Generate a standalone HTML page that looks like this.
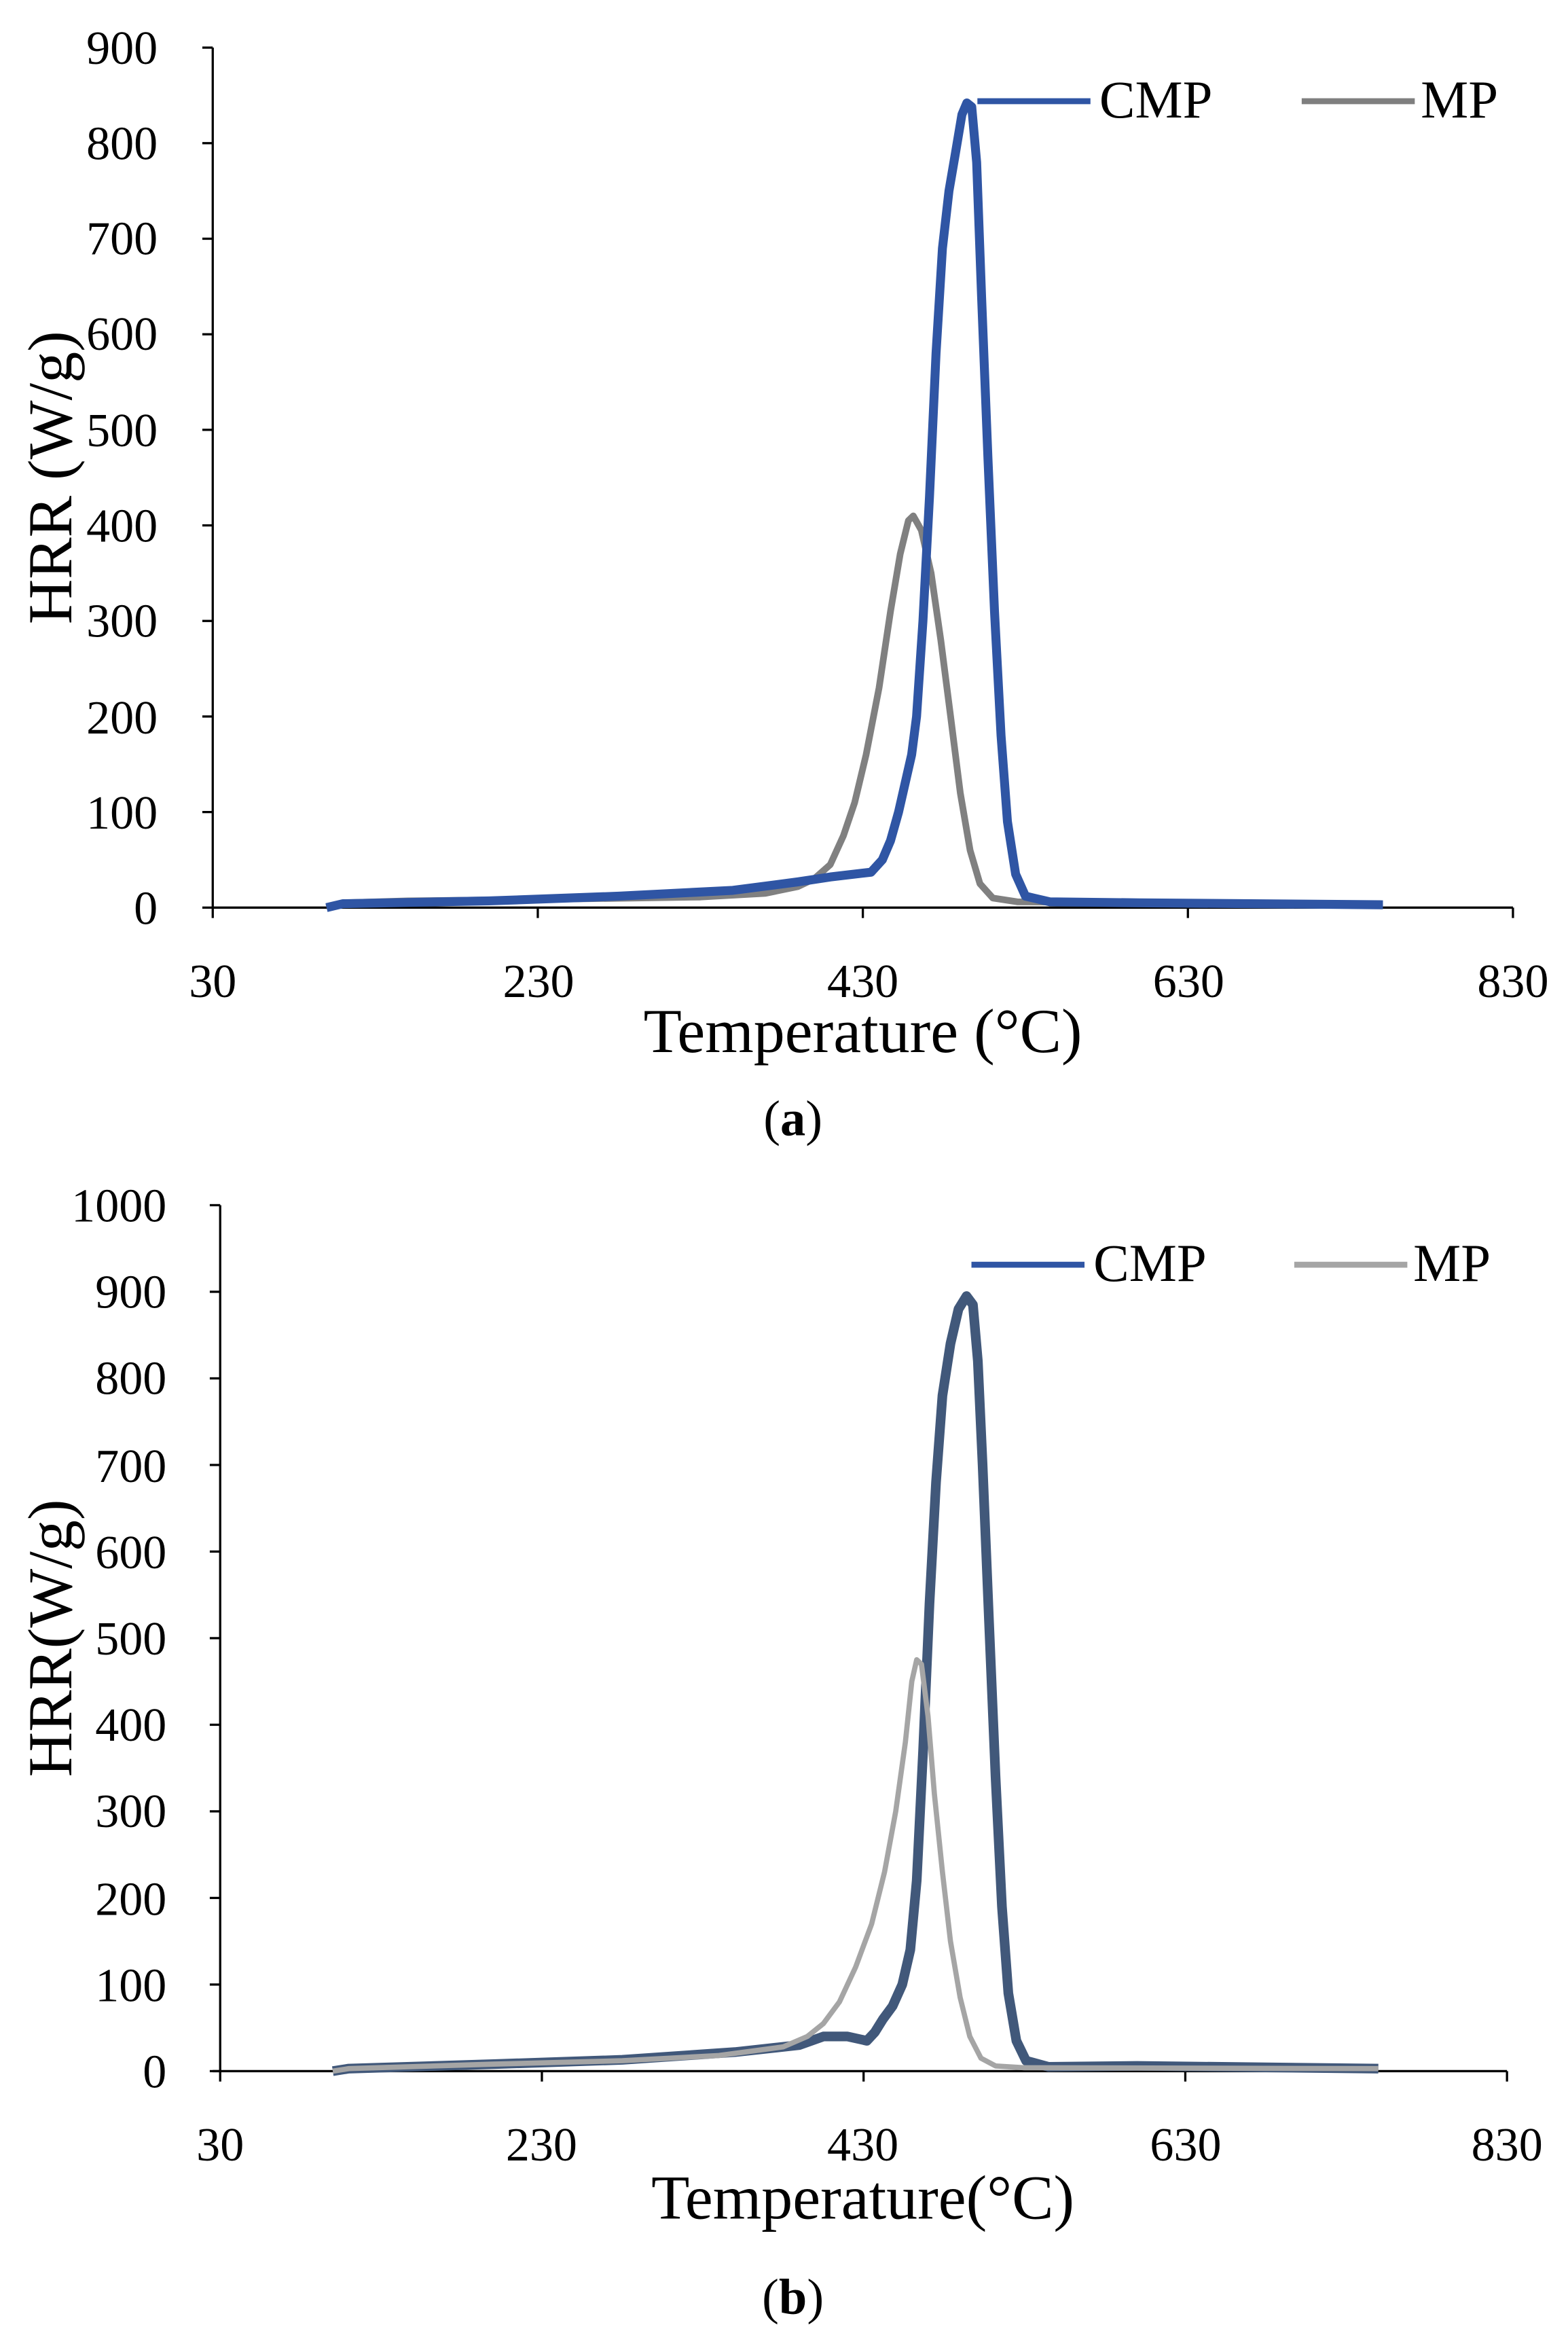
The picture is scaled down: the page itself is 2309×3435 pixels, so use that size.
<!DOCTYPE html>
<html><head><meta charset="utf-8"><style>
html,body{margin:0;padding:0;background:#fff;}
svg{display:block;}
text{font-family:"Liberation Serif",serif;fill:#000;}
</style></head><body>
<svg id="s" width="2309" height="3435" viewBox="0 0 1054 1568" xmlns="http://www.w3.org/2000/svg">
<rect width="1054" height="1568" fill="#fff"/>
<g stroke="#000" stroke-width="1.5" fill="none">
<line x1="143" y1="32" x2="143" y2="610"/>
<line x1="143" y1="610" x2="1017" y2="610"/>
<line x1="143" y1="1392" x2="1013" y2="1392"/>
<line x1="148" y1="810" x2="148" y2="1392"/>
</g>
<g id="ticks" stroke="#000" stroke-width="1.5"></g>
<g font-size="32" text-anchor="end">
<text x="106" y="43">900</text><text x="106" y="107">800</text><text x="106" y="171">700</text><text x="106" y="235">600</text><text x="106" y="300">500</text><text x="106" y="364">400</text><text x="106" y="428">300</text><text x="106" y="493">200</text><text x="106" y="557">100</text><text x="106" y="621">0</text>
</g>
<g font-size="32" text-anchor="middle">
<text x="143" y="670">30</text><text x="362" y="670">230</text><text x="580" y="670">430</text><text x="799" y="670">630</text><text x="1017" y="670">830</text>
</g>
<text x="580" y="707" font-size="42" text-anchor="middle">Temperature (°C)</text>
<text x="48" y="321" font-size="42" text-anchor="middle" transform="rotate(-90 48 321)">HRR (W/g)</text>
<text x="533" y="763" font-size="34" text-anchor="middle">(<tspan font-weight="bold">a</tspan>)</text>
<g font-size="32" text-anchor="end">
<text x="112" y="821">1000</text><text x="112" y="879">900</text><text x="112" y="937">800</text><text x="112" y="996">700</text><text x="112" y="1054">600</text><text x="112" y="1112">500</text><text x="112" y="1170">400</text><text x="112" y="1228">300</text><text x="112" y="1287">200</text><text x="112" y="1345">100</text><text x="112" y="1403">0</text>
</g>
<g font-size="32" text-anchor="middle">
<text x="148" y="1452">30</text><text x="364" y="1452">230</text><text x="580" y="1452">430</text><text x="797" y="1452">630</text><text x="1013" y="1452">830</text>
</g>
<text x="580" y="1491" font-size="42" text-anchor="middle">Temperature(°C)</text>
<text x="48" y="1101" font-size="42" text-anchor="middle" transform="rotate(-90 48 1101)">HRR(W/g)</text>
<text x="533" y="1555" font-size="34" text-anchor="middle">(<tspan font-weight="bold">b</tspan>)</text>
<g id="curves"></g>
<line x1="657" y1="68" x2="733" y2="68" stroke="#2f55a4" stroke-width="4"/>
<text x="739" y="79" font-size="36">CMP</text>
<line x1="875" y1="68" x2="951" y2="68" stroke="#7f7f7f" stroke-width="4"/>
<text x="955" y="79" font-size="36">MP</text>
<line x1="653" y1="850" x2="729" y2="850" stroke="#2f55a4" stroke-width="4"/>
<text x="735" y="861" font-size="36">CMP</text>
<line x1="870" y1="850" x2="946" y2="850" stroke="#a5a5a5" stroke-width="4"/>
<text x="950" y="861" font-size="36">MP</text>
</svg>
<script>
var NS="http://www.w3.org/2000/svg";
var tk=document.getElementById('ticks'),cv=document.getElementById('curves');
function L(p,x1,y1,x2,y2){var l=document.createElementNS(NS,'line');l.setAttribute('x1',x1);l.setAttribute('y1',y1);l.setAttribute('x2',x2);l.setAttribute('y2',y2);p.appendChild(l);}
for(var i=0;i<=9;i++){var y=610-i*578/9;L(tk,136,y,143,y);}
for(var i=0;i<=4;i++){var x=143+i*874/4;L(tk,x,610,x,617);}
for(var i=0;i<=10;i++){var y=1392-i*58.2;L(tk,141,y,148,y);}
for(var i=0;i<=4;i++){var x=148+i*865/4;L(tk,x,1392,x,1399);}
function path(pts,mx,my,col,w){var d='';pts.forEach(function(p,i){d+=(i?'L':'M')+mx(p[0]).toFixed(1)+' '+my(p[1]).toFixed(1);});
var e=document.createElementNS(NS,'path');e.setAttribute('d',d);e.setAttribute('fill','none');e.setAttribute('stroke',col);e.setAttribute('stroke-width',w);e.setAttribute('stroke-linejoin','round');cv.appendChild(e);}
var ax=function(t){return 143+(t-30)*874/800},ay=function(h){return 610-h*578/900};
var bx=function(t){return 148+(t-30)*865/800},by=function(h){return 1392-h*582/1000};
var mpA=[[100,0],[110,5],[150,7],[250,9],[330,11],[370,15],[390,22],[400,30],[410,45],[418,75],[425,110],[432,160],[440,230],[447,310],[453,370],[458,405],[461,410],[466,395],[472,350],[478,280],[484,200],[490,120],[496,60],[502,25],[510,10],[525,6],[750,3]];
var cmpA=[[100,0],[110,4],[200,7],[280,12],[350,18],[390,27],[410,32],[435,37],[442,50],[447,70],[452,100],[456,130],[460,160],[463,200],[467,300],[471,430],[475,580],[479,690],[483,750],[487,790],[491,830],[494,842],[497,838],[500,780],[503,640],[507,470],[511,310],[515,180],[519,90],[524,35],[530,12],[545,6],[600,5],[750,3]];
path(mpA,ax,ay,'#808080',4.5);
path(cmpA,ax,ay,'#2f55a4',6);
var cmpB=[[100,0],[110,3],[200,8],[280,13],[350,22],[390,30],[405,40],[420,40],[432,35],[437,45],[442,60],[448,75],[454,100],[459,140],[463,220],[467,370],[471,540],[475,680],[479,780],[484,840],[489,880],[494,895],[498,885],[501,820],[504,700],[508,520],[512,340],[516,190],[520,90],[525,35],[531,12],[545,5],[600,6],[750,3]];
var mpB=[[100,0],[110,3],[200,8],[280,12],[340,18],[380,28],[395,40],[405,55],[415,80],[425,120],[435,170],[443,230],[450,300],[456,380],[460,450],[463,475],[466,470],[470,410],[474,320],[479,230],[484,150],[490,85],[496,40],[503,15],[512,6],[530,4],[750,3]];
path(cmpB,bx,by,'#41587a',6.5);
path(mpB,bx,by,'#a5a5a5',3.5);
</script>
</body></html>
